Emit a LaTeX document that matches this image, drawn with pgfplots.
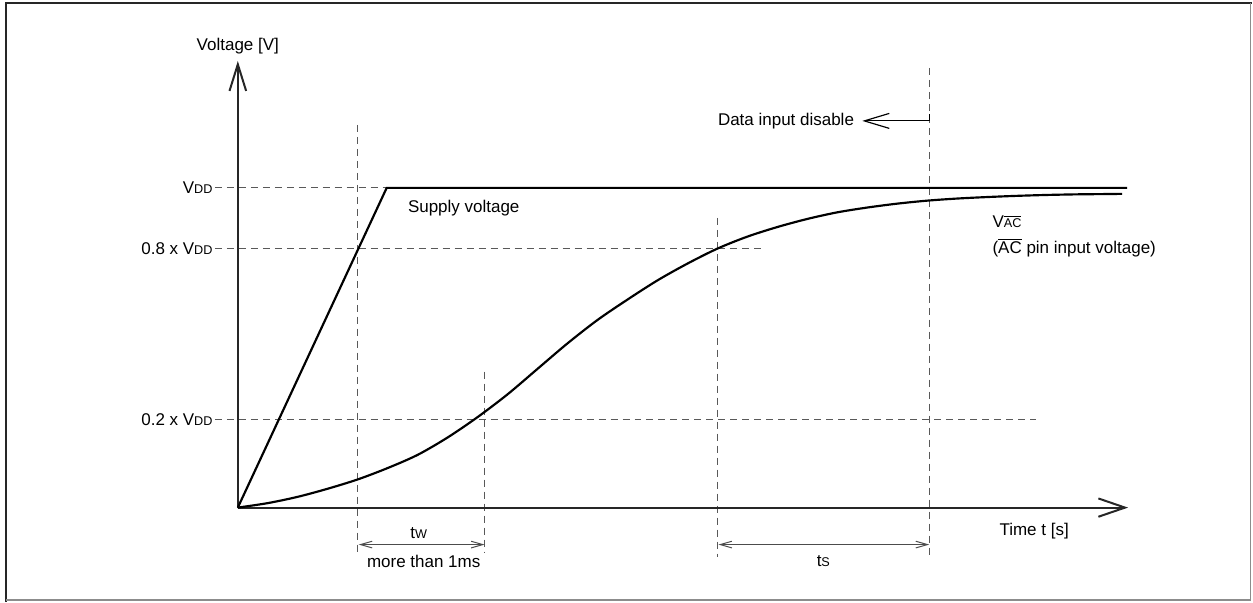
\documentclass[border=0pt]{standalone}
\usepackage{fontspec}
\setmainfont{Liberation Sans}
\usepackage{pgfplots}
\pgfplotsset{compat=1.18}
\usetikzlibrary{arrows.meta}
\newcommand{\sm}[1]{{\fontsize{7.6}{9}\selectfont #1}}
\newcommand{\ov}[1]{$\overline{\hbox{#1}}$}
\begin{document}
\begin{tikzpicture}[every node/.style={font=\fontsize{10.2}{12}\selectfont, inner sep=0pt}]
\begin{axis}[x=0.6pt, y=0.6pt, xmin=0, xmax=1253, ymin=0, ymax=602, y dir=reverse,
  hide axis, clip=false]
% bounding area
\path (axis cs:0,0) rectangle (axis cs:1253,602);
% frame
\draw[black!85, line width=1.2pt] (axis cs:6.5,602) -- (axis cs:6.5,3.5) -- (axis cs:1253,3.5);
\draw[black!45, line width=0.9pt] (axis cs:6.5,600.5) -- (axis cs:1251.5,600.5) -- (axis cs:1251.5,3.5);

% dashed guide lines
\pgfplotsset{guide/.style={black!65, line width=0.6pt, dash pattern=on 4.2pt off 3pt, forget plot}}
\addplot[guide] coordinates {(215,188) (387,188)};
\addplot[guide] coordinates {(215,249) (766,249)};
\addplot[guide] coordinates {(215,420) (1037,420)};
\addplot[guide] coordinates {(358,125) (358,553)};
\addplot[guide] coordinates {(485,372) (485,553)};
\addplot[guide] coordinates {(718,218) (718,557)};
\addplot[guide] coordinates {(930,68) (930,557)};

% axes
\draw[black!85, line width=1.2pt, -{Straight Barb[length=16pt,width=11pt,line width=1.2pt]}] (axis cs:238,508) -- (axis cs:1129,508);
\draw[black!85, line width=1.2pt, -{Straight Barb[length=16pt,width=10pt,line width=1.2pt]}] (axis cs:238,508) -- (axis cs:238,61);

% supply voltage
\addplot[black, line width=1.3pt] coordinates {(238,508) (387,188) (1128,188)};
% V_AC
\addplot[black, line width=1.3pt, smooth] coordinates {
(238,508) (268,503.5) (298,497.2) (328,489.1) (358,479.8) (388,468.4) (418,455.2)
(448,437.8) (478,417.4) (508,394.6) (538,369.1) (568,343.6) (598,320.2) (628,299.8)
(658,280.6) (688,263.8) (718,248.8) (748,236.8) (778,227.2) (808,219.1) (838,212.5)
(868,207.7) (898,203.8) (928,200.8) (958,198.7) (988,197.2) (1018,196) (1048,195.1)
(1078,194.5) (1108,194.2) (1123,194)};

% data input disable arrow
\draw[black, line width=0.7pt] (axis cs:930,114) -- (axis cs:930,121);
\draw[black, line width=0.7pt, -{Straight Barb[length=15pt,width=9pt,line width=0.7pt]}] (axis cs:930,121) -- (axis cs:863,121);
\node[anchor=east] at (axis cs:855,121) {Data input disable};

% dimension arrows
\draw[black!70, line width=0.6pt, {Straight Barb[length=7pt,width=4pt]}-{Straight Barb[length=7pt,width=4pt]}] (axis cs:359,545) -- (axis cs:485,545);
\draw[black!70, line width=0.6pt, {Straight Barb[length=7pt,width=4pt]}-{Straight Barb[length=7pt,width=4pt]}] (axis cs:719,545) -- (axis cs:930,545);

% labels
\node at (axis cs:238,46) {Voltage [V]};
\node[anchor=east] at (axis cs:213,188) {V\sm{DD}};
\node[anchor=east] at (axis cs:213,249) {0.8 x V\sm{DD}};
\node[anchor=east] at (axis cs:213,420) {0.2 x V\sm{DD}};
\node[anchor=west] at (axis cs:408,208) {Supply voltage};
\node[anchor=west] at (axis cs:993,222) {V\sm{\ov{AC}}};
\node[anchor=west] at (axis cs:993,248) {(\ov{AC} pin input voltage)};
\node[anchor=west] at (axis cs:1000,532) {Time t [s]};
\node at (axis cs:419,533) {t\sm{W}};
\node at (axis cs:424,562) {more than 1ms};
\node at (axis cs:824,562) {t\sm{S}};
\end{axis}
\end{tikzpicture}
\end{document}
